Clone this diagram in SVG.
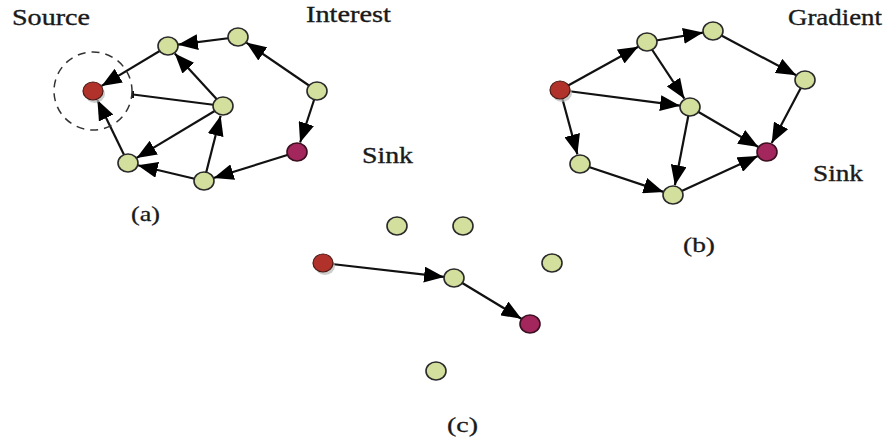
<svg xmlns="http://www.w3.org/2000/svg" width="887" height="441" viewBox="0 0 887 441">
<style>
.lbl{font-family:"Liberation Serif","Times New Roman",serif;font-size:23px;fill:#1a1a1a;stroke:#1a1a1a;stroke-width:0.35}
.cap{font-family:"Liberation Serif","Times New Roman",serif;font-size:21px;fill:#1a1a1a;stroke:#1a1a1a;stroke-width:0.3}
.e{stroke:#111;stroke-width:2.2;fill:none;marker-end:url(#ah)}
.l{stroke:#111;stroke-width:2;fill:none}
.g{fill:#d3df9c;stroke:#2a2a2a;stroke-width:1.6}
.r{fill:#b0322a;stroke:#4a1a14;stroke-width:1.2}
.p{fill:#a3265c;stroke:#3a1020;stroke-width:1.6}
.sh{fill:#b8b8b8;opacity:0.7}
</style>
<defs>
<marker id="ah" markerUnits="userSpaceOnUse" markerWidth="20" markerHeight="16" refX="20" refY="8" orient="auto">
<path d="M0,0 L20,8 L0,16 z" fill="#000"/>
</marker>
</defs>
<rect width="887" height="441" fill="#fff"/>
<g id="connectors">
<line class="e" x1="238" y1="37" x2="177.9" y2="44.7"/>
<line class="e" x1="317" y1="91" x2="246.3" y2="42.6"/>
<line class="e" x1="317" y1="91" x2="300.1" y2="142.5"/>
<line class="e" x1="297" y1="152" x2="213.6" y2="178"/>
<line class="e" x1="204" y1="181" x2="137.7" y2="165.3"/>
<line class="e" x1="204" y1="181" x2="220.6" y2="115.7"/>
<line class="e" x1="223" y1="106" x2="136.6" y2="157.9"/>
<line class="e" x1="223" y1="106" x2="174.8" y2="53.4"/>
<line class="e" x1="168" y1="46" x2="101.6" y2="85.9"/>
<line class="e" x1="128" y1="163" x2="97.4" y2="100"/>
<line class="l" x1="223" y1="106" x2="133" y2="94.5"/>
<line class="l" x1="133" y1="91" x2="133" y2="98" stroke-width="1.2"/>
<line class="e" x1="560" y1="90" x2="638.2" y2="46.8"/>
<line class="e" x1="647" y1="42" x2="703.1" y2="32.6"/>
<line class="e" x1="713" y1="31" x2="796.2" y2="75.3"/>
<line class="e" x1="805" y1="80" x2="771.7" y2="143.1"/>
<line class="e" x1="647" y1="42" x2="684.4" y2="98.7"/>
<line class="e" x1="560" y1="90" x2="680.1" y2="105.7"/>
<line class="e" x1="690" y1="107" x2="758.4" y2="147"/>
<line class="e" x1="690" y1="107" x2="674.9" y2="185.2"/>
<line class="e" x1="560" y1="90" x2="577.4" y2="154.4"/>
<line class="e" x1="580" y1="164" x2="663.5" y2="191.9"/>
<line class="e" x1="673" y1="195" x2="757.9" y2="156.1"/>
<line class="e" x1="323" y1="263" x2="444.1" y2="276.9"/>
<line class="e" x1="454" y1="278" x2="521.4" y2="318.8"/>
</g>
<g id="source-range"><circle cx="93" cy="91" r="39" fill="none" stroke="#333" stroke-width="1.5" stroke-dasharray="8,6"/></g>
<g id="a-source"><ellipse class="sh" cx="95" cy="94" rx="10" ry="9"/><ellipse class="r" cx="93" cy="91" rx="10" ry="9"/></g>
<g id="a-n1"><ellipse class="g" cx="168" cy="46" rx="10" ry="9"/></g>
<g id="a-n2"><ellipse class="g" cx="238" cy="37" rx="10" ry="9"/></g>
<g id="a-n3"><ellipse class="g" cx="317" cy="91" rx="10" ry="9"/></g>
<g id="a-sink"><ellipse class="p" cx="297" cy="152" rx="10" ry="9"/></g>
<g id="a-n5"><ellipse class="g" cx="204" cy="181" rx="10" ry="9"/></g>
<g id="a-n6"><ellipse class="g" cx="128" cy="163" rx="10" ry="9"/></g>
<g id="a-n7"><ellipse class="g" cx="223" cy="106" rx="10" ry="9"/></g>
<g id="b-source"><ellipse class="sh" cx="562" cy="93" rx="10" ry="9"/><ellipse class="r" cx="560" cy="90" rx="10" ry="9"/></g>
<g id="b-n1"><ellipse class="g" cx="647" cy="42" rx="10" ry="9"/></g>
<g id="b-n2"><ellipse class="g" cx="713" cy="31" rx="10" ry="9"/></g>
<g id="b-n3"><ellipse class="g" cx="805" cy="80" rx="10" ry="9"/></g>
<g id="b-sink"><ellipse class="p" cx="767" cy="152" rx="10" ry="9"/></g>
<g id="b-n4"><ellipse class="g" cx="690" cy="107" rx="10" ry="9"/></g>
<g id="b-n5"><ellipse class="g" cx="580" cy="164" rx="10" ry="9"/></g>
<g id="b-n6"><ellipse class="g" cx="673" cy="195" rx="10" ry="9"/></g>
<g id="c-source"><ellipse class="sh" cx="325" cy="266" rx="10" ry="9"/><ellipse class="r" cx="323" cy="263" rx="10" ry="9"/></g>
<g id="c-n1"><ellipse class="g" cx="397" cy="226" rx="10" ry="9"/></g>
<g id="c-n2"><ellipse class="g" cx="463" cy="226" rx="10" ry="9"/></g>
<g id="c-n3"><ellipse class="g" cx="552" cy="263" rx="10" ry="9"/></g>
<g id="c-n4"><ellipse class="g" cx="454" cy="278" rx="10" ry="9"/></g>
<g id="c-sink"><ellipse class="p" cx="530" cy="324" rx="10" ry="9"/></g>
<g id="c-n5"><ellipse class="g" cx="436" cy="371" rx="10" ry="9"/></g>
<g id="labels">
<text class="lbl" x="12" y="25" textLength="78" lengthAdjust="spacingAndGlyphs">Source</text>
<text class="lbl" x="306" y="22" textLength="85" lengthAdjust="spacingAndGlyphs">Interest</text>
<text class="lbl" x="362" y="163" textLength="51" lengthAdjust="spacingAndGlyphs">Sink</text>
<text class="lbl" x="788" y="25" textLength="94" lengthAdjust="spacingAndGlyphs">Gradient</text>
<text class="lbl" x="813" y="181" textLength="50" lengthAdjust="spacingAndGlyphs">Sink</text>
<text class="cap" x="131" y="221" textLength="29" lengthAdjust="spacingAndGlyphs">(a)</text>
<text class="cap" x="683" y="252" textLength="32" lengthAdjust="spacingAndGlyphs">(b)</text>
<text class="cap" x="447" y="432" textLength="31" lengthAdjust="spacingAndGlyphs">(c)</text>
</g>
</svg>
